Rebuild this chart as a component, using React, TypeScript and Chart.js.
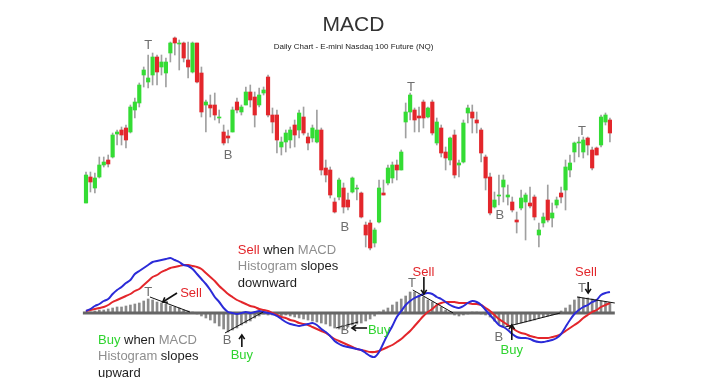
import React, { useEffect, useRef } from "react";
import { Chart, registerables } from "chart.js";

Chart.register(...registerables);

// ---- Candles (price units) ----
const opens = [97,123,112,123,135,140,143,166,170,172, 168,190,197,225,218,225,243,233,227,247, 262,256,257,240,228,257,227,195,195,195, 182,168,164,168,198,188,195,208,203,195, 207,223,185,185,153,158,160,175,170,183, 163,162,158,170,132,130,98,103,112,100, 108,111,107,75,77,57,78,107,117,122, 135,130,178,188,190,184,198,183,198,157, 172,148,140,165,135,138,187,188,180,170, 143,123,93,104,113,103,98,80,92,98, 97,103,65,77,100,82,95,107,110,130, 148,157,148,162,150,152,155,178,180];
const highs = [128,128,127,143,143,145,167,170,173,175, 195,202,217,233,245,247,245,245,242,258, 263,260,258,258,258,257,233,200,205,207, 190,175,170,193,202,195,213,215,208,212, 213,225,192,190,163,170,173,180,190,193, 167,175,190,172,140,133,102,122,117,107, 123,115,108,78,80,72,120,120,135,138, 140,150,197,207,192,193,200,193,200,182, 175,153,163,170,140,180,195,195,188,172, 145,127,108,125,125,115,103,88,110,107, 113,105,77,87,115,97,103,113,140,145, 158,163,163,163,153,153,185,187,182];
const lows = [97,108,107,122,133,133,142,155,155,152, 167,182,193,213,212,215,215,225,213,238, 245,230,238,222,227,217,183,168,183,180, 177,155,157,168,187,185,195,193,173,193, 205,183,167,147,145,148,152,153,162,165, 150,158,157,125,118,102,87,100,87,90, 107,100,82,53,50,53,77,105,115,117, 120,130,162,180,168,168,172,182,165,155, 143,130,135,122,123,137,177,167,167,138, 110,85,92,95,98,95,88,67,90,60, 92,80,53,73,78,73,92,97,90,123, 138,143,142,145,130,145,153,175,158];
const closes = [125,118,122,135,138,136,165,168,165,160, 193,198,215,230,222,243,228,238,238,257, 257,257,242,233,257,218,188,198,192,185, 183,157,162,190,190,193,208,200,185,205, 210,185,178,160,158,167,170,165,187,167, 157,172,170,130,125,105,88,120,93,93, 122,112,83,65,52,70,112,105,132,135, 130,148,188,205,180,182,182,192,167,178, 147,142,162,125,137,177,192,182,177,147, 122,87,100,105,120,105,90,78,102,105, 94,83,70,83,80,87,100,103,133,137, 157,158,160,155,132,145,183,185,167];

// ---- MACD panel ----
const macdLine = [2,4,7,9,12,14,19,23,26,30, 33,39,42,45,48,51,52,53,54,55, 53,51,48,47,44,39,34,29,23,16, 11,5,1,0,-1,0,1,0,1,2, 1,0,-1,-3,-6,-9,-11,-12,-13,-12, -11,-10,-12,-16,-19,-23,-28,-31,-33,-34, -35,-36,-37,-40,-43,-44,-39,-30,-21,-13, -4,2,8,12,15,17,19,20,19,16, 14,11,8,6,5,7,10,12,11,8, 3,-2,-7,-12,-14,-17,-21,-24,-25,-25, -26,-28,-29,-29,-28,-27,-25,-21,-14,-7, -1,3,6,8,11,13,18,20,21];
const signalLine = [2,3,4,5,6,8,11,13,15,17, 19,22,24,28,32,36,38,41,43,45, 46,47,48,48,47,46,44,40,36,32, 27,23,19,16,13,11,9,7,6,4, 3,2,0,-2,-4,-5,-7,-8,-10,-11, -12,-14,-16,-18,-20,-23,-26,-28,-30,-32, -34,-36,-37,-38,-39,-39,-38,-36,-34,-32, -29,-26,-22,-18,-13,-8,-3,1,4,8, 10,11,11,11,10,10,10,9,9,8, 5,2,-2,-6,-9,-12,-15,-18,-20,-21, -23,-24,-25,-25,-25,-24,-23,-21,-18,-15, -12,-9,-5,-2,1,3,6,8,10];
const histogram = [1,1,2,3,3,4,5,6,6,7, 8,9,10,12,14,13,11,10,9,7, 6,5,3,2,1, -1,-3,-5,-7,-10,-13,-16,-19,-17,-15,-12,-10,-8,-5,-3,-1, -2,-2,-3,-3,-2, -3,-4,-5,-6,-7,-8,-9,-10,-11,-13,-15,-16,-17,-14,-12,-11,-10,-8,-6,-3, 1,3,5,8,11,14,17,21,21,18,16,13,11,8,6,3,1, -2,-3,-2,-1,1,1,-1,-2, -4,-8,-11,-14,-13,-12,-11,-10,-9,-8,-7,-5,-4,-3,-2,-1, 2,5,8,13,16,15,15,14,13,12,11,10];

// ---- Annotations (data coordinates: bar index, value) ----
const candleMarks: [string, number, number][] = [["T",14,255],["B",32,145],["B",58.3,73],["T",73.2,213],["B",93.2,85],["T",111.7,169]];
const macdMarks: [string, number, number][] = [["T",14,21],["B",31.8,-27],["T",73.4,30],["B",58.3,-17],["B",93,-24],["T",111.7,25]];
const sellLabels: [number, number, string][] = [[21.2,20,"left"],[76,41,"center"],[112.6,41,"center"]];
const buyLabels: [number, number, string][] = [[35.1,-42,"center"],[63.5,-17,"left"],[95.9,-37,"center"]];
const arrows: [number, number, number, number][] = [[20.5,20,17.3,11],[35.1,-34,35.1,-22],[76.1,36,76.1,19],[63.3,-15,59.9,-15],[95.9,-27,95.9,-12],[113.1,31,113.1,20]];
const trendLines: [number, number, number, number][] = [[14.4,16,23.4,1],[31.3,-20,39.9,1],[56.3,-15,61.3,-9],[73.6,23,82.7,0],[94.4,-14,106.8,0],[110.6,16,119.1,10]];

const RED = "#e2262b";
const GREEN = "#2fd42f";
const GRAY = "#8e8e8e";
const DARK = "#1e1e1e";
const FONT = '"Liberation Sans", Arial, sans-serif';

const textBlocks = [
  { i: 2.7, m: -27, lines: [[["Buy", GREEN], [" when ", DARK], ["MACD", GRAY]], [["Histogram", GRAY], [" slopes", DARK]], [["upward", DARK]]] },
  { i: 34.2, m: 63, lines: [[["Sell", RED], [" when ", DARK], ["MACD", GRAY]], [["Histogram", GRAY], [" slopes", DARK]], [["downward", DARK]]] },
];

const TITLE = "MACD";
const SUBTITLE = "Daily Chart - E-mini Nasdaq 100 Future (NQ)";

const annotPlugin = {
  id: "annot",
  afterDatasetsDraw(chart: any) {
    const ctx: CanvasRenderingContext2D = chart.ctx;
    const xs = chart.scales.x, yp = chart.scales.y, ym = chart.scales.y2;
    const X = (i: number) => xs.getPixelForValue(i);
    const YP = (v: number) => yp.getPixelForValue(v);
    const YM = (v: number) => ym.getPixelForValue(v);
    ctx.save();
    // trend lines
    ctx.strokeStyle = "#111";
    ctx.lineWidth = 1;
    trendLines.forEach(([i1, m1, i2, m2]) => {
      ctx.beginPath();
      ctx.moveTo(X(i1), YM(m1));
      ctx.lineTo(X(i2), YM(m2));
      ctx.stroke();
    });
    // arrows
    ctx.lineWidth = 1.6;
    ctx.fillStyle = "#111";
    arrows.forEach(([i1, m1, i2, m2]) => {
      const x1 = X(i1), y1 = YM(m1), x2 = X(i2), y2 = YM(m2);
      const a = Math.atan2(y2 - y1, x2 - x1);
      ctx.beginPath();
      ctx.moveTo(x1, y1);
      ctx.lineTo(x2, y2);
      ctx.stroke();
      const h = 5;
      ctx.beginPath();
      ctx.moveTo(x2 - h * Math.cos(a - 0.6), y2 - h * Math.sin(a - 0.6));
      ctx.lineTo(x2, y2);
      ctx.lineTo(x2 - h * Math.cos(a + 0.6), y2 - h * Math.sin(a + 0.6));
      ctx.stroke();
    });
    ctx.textBaseline = "middle";
    // candle T/B marks
    ctx.font = `13px ${FONT}`;
    ctx.fillStyle = "#6e6e6e";
    ctx.textAlign = "center";
    candleMarks.forEach(([t, i, p]) => ctx.fillText(t, X(i), YP(p)));
    macdMarks.forEach(([t, i, m]) => ctx.fillText(t, X(i), YM(m)));
    // Sell / Buy labels
    ctx.font = `13px ${FONT}`;
    ctx.fillStyle = RED;
    sellLabels.forEach(([i, m, al]) => { ctx.textAlign = al as CanvasTextAlign; ctx.fillText("Sell", X(i), YM(m)); });
    ctx.fillStyle = GREEN;
    buyLabels.forEach(([i, m, al]) => { ctx.textAlign = al as CanvasTextAlign; ctx.fillText("Buy", X(i), YM(m)); });
    // text blocks
    ctx.textAlign = "left";
    textBlocks.forEach((b) => {
      let y = YM(b.m);
      b.lines.forEach((line: any) => {
        let x = X(b.i);
        line.forEach(([s, c]: [string, string]) => {
          ctx.fillStyle = c;
          ctx.fillText(s, x, y);
          x += ctx.measureText(s).width;
        });
        y += 16.5;
      });
    });
    // titles
    ctx.textAlign = "center";
    ctx.fillStyle = "#333";
    ctx.font = `21px ${FONT}`;
    ctx.fillText(TITLE, chart.width / 2, 25);
    ctx.fillStyle = "#222";
    ctx.font = `8px ${FONT}`;
    ctx.fillText(SUBTITLE, chart.width / 2, 47);
    ctx.restore();
  },
};

export default function App() {
  const ref = useRef<HTMLCanvasElement>(null);
  useEffect(() => {
    const idx = opens.map((_, i) => i);
    const bodyColors = idx.map((i) => (closes[i] >= opens[i] ? "#34dc34" : "#e3262b"));
    const last = idx.length - 1;
    const chart = new Chart(ref.current as HTMLCanvasElement, {
      type: "bar",
      data: {
        datasets: [
          { type: "line", label: "MACD", data: idx.map((i) => ({ x: i, y: macdLine[i] })), yAxisID: "y2", borderColor: "#2b2bd8", borderWidth: 2, pointRadius: 0, tension: 0.3, order: 1 } as any,
          { type: "line", label: "Signal", data: idx.map((i) => ({ x: i, y: signalLine[i] })), yAxisID: "y2", borderColor: "#e3262b", borderWidth: 2, pointRadius: 0, tension: 0.3, order: 2 } as any,
          { type: "line", label: "Zero", data: [{ x: -0.7, y: 0 }, { x: last + 1.1, y: 0 }], yAxisID: "y2", borderColor: "#666", borderWidth: 3, pointRadius: 0, order: 3 } as any,
          { type: "bar", label: "Histogram", data: idx.map((i) => ({ x: i, y: histogram[i] })), yAxisID: "y2", backgroundColor: "#8a8a8a", barThickness: 2, grouped: false, order: 4 } as any,
          { type: "bar", label: "Bodies", data: idx.map((i) => ({ x: i, y: [opens[i], closes[i]] })), yAxisID: "y", backgroundColor: bodyColors, barThickness: 3.5, grouped: false, order: 5 } as any,
          { type: "bar", label: "Wicks", data: idx.map((i) => ({ x: i, y: [lows[i], highs[i]] })), yAxisID: "y", backgroundColor: "#a0a0a0", barThickness: 1, grouped: false, order: 6 } as any,
        ],
      },
      options: {
        responsive: false,
        maintainAspectRatio: false,
        animation: false,
        devicePixelRatio: 1,
        layout: { padding: 0 },
        plugins: { legend: { display: false }, tooltip: { enabled: false }, title: { display: false } },
        scales: {
          x: { type: "linear", display: false, offset: false, min: -86 / 4.44, max: (707 - 86) / 4.44 },
          y: { type: "linear", display: false, min: -78, max: 300 },
          y2: { type: "linear", display: false, min: -65, max: 313 },
        },
      } as any,
      plugins: [annotPlugin],
    });
    return () => chart.destroy();
  }, []);
  return (
    <div style={{ position: "absolute", left: 0, top: 0, width: 707, height: 378, background: "#fff" }}>
      <canvas ref={ref} width={707} height={378} style={{ width: 707, height: 378, display: "block" }} />
    </div>
  );
}
